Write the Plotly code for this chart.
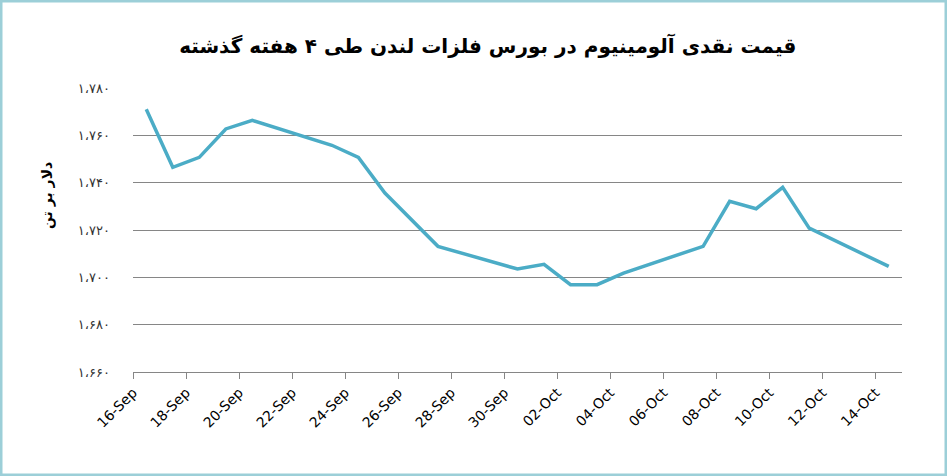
import plotly.graph_objects as go

# قیمت نقدی آلومینیوم (دلار بر تن)
dates = ["2013-09-16", "2013-09-17", "2013-09-18", "2013-09-19", "2013-09-20",
         "2013-09-23", "2013-09-24", "2013-09-25", "2013-09-27", "2013-09-30",
         "2013-10-01", "2013-10-02", "2013-10-03", "2013-10-04", "2013-10-07",
         "2013-10-08", "2013-10-09", "2013-10-10", "2013-10-11", "2013-10-14"]
prices = [1771, 1746.5, 1750.7, 1762.7, 1766.3,
          1755.8, 1750.7, 1735.6, 1713.1, 1703.5,
          1705.5, 1696.9, 1696.9, 1701.8, 1713.1,
          1732.1, 1729, 1738, 1720.8, 1704.6]

y_tickvals = [1660, 1680, 1700, 1720, 1740, 1760, 1780]
y_ticktext = ["۱،۶۶۰", "۱،۶۸۰", "۱،۷۰۰", "۱،۷۲۰", "۱،۷۴۰", "۱،۷۶۰", "۱،۷۸۰"]

title_text = "قیمت نقدی آلومینیوم در بورس فلزات لندن طی ۴ هفته گذشته"
y_title = "دلار بر تن"

W, H = 947, 476
L, R, T, B = 133, 45, 88, 104

fig = go.Figure()
fig.add_trace(go.Scatter(
    x=dates, y=prices, mode="lines",
    xperiod=86400000, xperiodalignment="middle",
    line=dict(color="#4BACC6", width=3.5),
    showlegend=False,
))

fig.update_layout(
    width=W, height=H,
    margin=dict(l=L, r=R, t=T, b=B),
    paper_bgcolor="white", plot_bgcolor="white",
    font=dict(family="DejaVu Sans", color="black"),
    title=dict(text="<b>" + title_text + "</b>", x=0.515, xanchor="center",
               y=1 - 46 / H, yanchor="middle",
               font=dict(family="DejaVu Sans", size=20, color="black")),
)

fig.update_xaxes(
    type="date",
    range=["2013-09-16", "2013-10-15"],
    tick0="2013-09-16", dtick=2 * 86400000,
    tickformat="%d-%b", tickangle=-45,
    ticks="outside", ticklen=6, tickcolor="#868686",
    showline=True, linecolor="#868686", linewidth=1,
    showgrid=False, zeroline=False,
    tickfont=dict(family="DejaVu Sans", size=14, color="black"),
)

fig.update_yaxes(
    range=[1660, 1780],
    tickvals=y_tickvals, ticktext=y_ticktext,
    showgrid=True, gridcolor="#868686", gridwidth=1,
    showline=False, zeroline=False, ticks="",
    ticklabelstandoff=22,
    tickfont=dict(family="DejaVu Sans", size=13, color="#333333"),
)

pw = W - L - R
ph = H - T - B
fig.add_annotation(
    text="<b>" + y_title + "</b>", textangle=-90,
    xref="paper", yref="paper",
    x=(47 - L) / pw, y=(H - B - 196) / ph,
    xanchor="center", yanchor="middle", showarrow=False,
    font=dict(family="DejaVu Sans", size=14, color="black"),
)

# light frame around the whole picture
fig.add_shape(
    type="rect", xref="paper", yref="paper",
    x0=-L / pw, x1=(W - L) / pw, y0=-B / ph, y1=(H - B) / ph,
    line=dict(color="#9CCFD8", width=5), layer="above",
)

fig.write_html("out.html", config={"displayModeBar": False},
               post_script="document.body.style.margin='0';")
